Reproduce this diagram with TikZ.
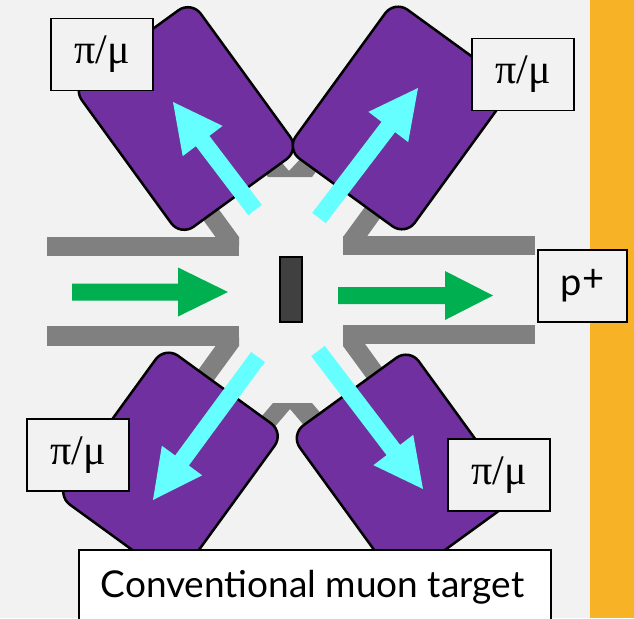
\documentclass[tikz,border=0pt]{standalone}
\usepackage{fontspec}
\setmainfont{Liberation Serif}
\newfontfamily\gillfont{Lato}
\usetikzlibrary{calc}
\definecolor{bgc}{HTML}{F2F2F2}
\definecolor{orangec}{HTML}{F7B226}
\definecolor{purplec}{HTML}{7030A0}
\definecolor{cyanc}{HTML}{66FFFF}
\definecolor{greenc}{HTML}{00B050}
\definecolor{pipec}{HTML}{808080}
\definecolor{targetc}{HTML}{404040}
\newcommand\blockarrow[6]{% tail, tip, half shaft, half head, head length, colour
  \coordinate (hb) at ($(#2)!#5!(#1)$);
  \fill[#6] ($(#1)!#3!90:(#2)$) -- ($(hb)!#3!-90:(#1)$) -- ($(hb)!#4!-90:(#1)$)
    -- (#2) -- ($(hb)!#4!90:(#1)$) -- ($(hb)!#3!90:(#1)$) -- ($(#1)!#3!-90:(#2)$) -- cycle;}
\tikzset{
  detector/.style={draw=black, fill=purplec, line width=2.5pt, rounded corners=16pt,
    minimum width=184pt, minimum height=147pt, inner sep=0pt},
  tag/.style={draw=black, fill=bgc, line width=1.6pt, minimum width=102pt,
    minimum height=72pt, inner sep=0pt, font=\fontsize{42}{44}\selectfont},
  pipe/.style={fill=pipec},
}
\begin{document}
\begin{tikzpicture}[x=1pt,y=-1pt]
\useasboundingbox (0,0) rectangle (634,618);
\fill[bgc] (0,0) rectangle (634,618);
\fill[orangec] (590,0) rectangle (634,618);
% gray stubs and chevrons
\fill[pipe] (178,185) -- (201,185) -- (239,237) -- (239,246) -- (222,246) -- cycle;
\fill[pipe] (404,185) -- (381,185) -- (343,237) -- (343,246) -- (360,246) -- cycle;
\fill[pipe] (178,398) -- (201,398) -- (239,346) -- (239,337) -- (222,337) -- cycle;
\fill[pipe] (404,398) -- (381,398) -- (343,346) -- (343,337) -- (360,337) -- cycle;
\fill[pipe] (268,177) -- (312,177) -- (340,140) -- (318,140) -- (289,171) -- (262,140) -- (240,140) -- cycle;
\fill[pipe] (273,403) -- (312,403) -- (346,443) -- (319,443) -- (290,409) -- (261,443) -- (239,443) -- cycle;
% horizontal beam pipes
\fill[pipe] (47,237) rectangle (239,256);
\fill[pipe] (343,236) rectangle (535,255);
\fill[pipe] (47,326) rectangle (239,346);
\fill[pipe] (343,325) rectangle (535,344);
% detectors
\node[detector, rotate=-54] (dTL) at (186,118.5) {};
\node[detector, rotate=54] (dTR) at (400,118) {};
\node[detector, rotate=54] (dBL) at (170.5,464) {};
\node[detector, rotate=-54] (dBR) at (404,466) {};
% cyan arrows
\coordinate (cTLa) at (255,210); \coordinate (cTLb) at (173,102);
\coordinate (cTRa) at (319,218); \coordinate (cTRb) at (418,88);
\coordinate (cBLa) at (258,357); \coordinate (cBLb) at (153,500);
\coordinate (cBRa) at (318,351); \coordinate (cBRb) at (423,489);
\blockarrow{cTLa}{cTLb}{8.5pt}{25pt}{49pt}{cyanc}
\blockarrow{cTRa}{cTRb}{8.5pt}{25pt}{49pt}{cyanc}
\blockarrow{cBLa}{cBLb}{8.5pt}{25pt}{49pt}{cyanc}
\blockarrow{cBRa}{cBRb}{8.5pt}{25pt}{49pt}{cyanc}
% green arrows
\coordinate (gLa) at (72,292); \coordinate (gLb) at (228,292);
\coordinate (gRa) at (338,295.5); \coordinate (gRb) at (493,295.5);
\blockarrow{gLa}{gLb}{8.5pt}{24.5pt}{50pt}{greenc}
\blockarrow{gRa}{gRb}{8.5pt}{24.5pt}{48pt}{greenc}
% target
\node[draw=black, fill=targetc, line width=2pt, minimum width=22pt, minimum height=65pt, inner sep=0pt] (target) at (291,289.5) {};
% labels
\node[tag] (lTL) at (102,54.5) {π/μ};
\node[tag] (lTR) at (523,74.5) {π/μ};
\node[tag] (lBL) at (78,455) {π/μ};
\node[tag] (lBR) at (499,475) {π/μ};
\node[tag, minimum width=89pt, font=\gillfont\fontsize{38}{40}\selectfont] (lp) at (582.5,286) {p\raisebox{4pt}{+}};
% caption
\node[draw=black, fill=white, line width=1.6pt, anchor=north west, minimum width=472pt, minimum height=90pt, inner sep=0pt] (capbox) at (78,549) {};
\node[anchor=base, inner sep=0pt, font=\gillfont\fontsize{37}{39}\selectfont] (captxt) at (312.5,597) {Conventional muon target};
\end{tikzpicture}
\end{document}
